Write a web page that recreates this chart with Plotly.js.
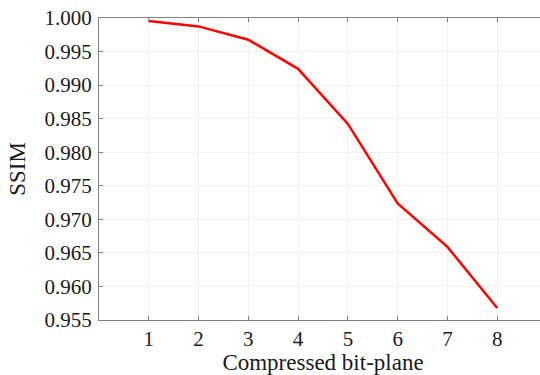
<!DOCTYPE html>
<html>
<head>
<meta charset="utf-8">
<script src="https://cdn.plot.ly/plotly-3.0.1.min.js"></script>
<style>
html,body{margin:0;padding:0;overflow:hidden;background:#fff;}
#chart{width:548px;height:375px;}
</style>
</head>
<body>
<div id="chart"></div>
<script>
var bitPlanes = [1, 2, 3, 4, 5, 6, 7, 8];
var ssimValues = [0.99955, 0.99875, 0.99676, 0.99243, 0.98422, 0.97238, 0.96590, 0.95679];
var yTickVals = [0.955, 0.960, 0.965, 0.970, 0.975, 0.980, 0.985, 0.990, 0.995, 1.000];
var yTickText = ["0.955", "0.960", "0.965", "0.970", "0.975", "0.980", "0.985", "0.990", "0.995", "1.000"];
var xTickVals = [1, 2, 3, 4, 5, 6, 7, 8];

var trace = {
  x: bitPlanes,
  y: ssimValues,
  type: 'scatter',
  mode: 'lines',
  line: {color: '#ff0000', width: 2.5},
  hoverinfo: 'skip'
};

var fontFam = '"Liberation Serif", "Times New Roman", serif';
var layout = {
  width: 548,
  height: 375,
  margin: {l: 99, r: 1, t: 18, b: 55},
  paper_bgcolor: '#ffffff',
  plot_bgcolor: '#ffffff',
  showlegend: false,
  font: {family: fontFam, size: 21, color: '#1a1a1a'},
  xaxis: {
    range: [0, 9],
    tickvals: xTickVals,
    ticktext: xTickVals.map(String),
    ticks: 'inside',
    ticklen: 4,
    tickwidth: 1,
    tickcolor: '#808080',
    showline: true,
    linecolor: '#808080',
    linewidth: 1,
    mirror: 'ticks',
    showgrid: true,
    gridcolor: '#f1f1f1',
    gridwidth: 1,
    zeroline: false,
    tickfont: {family: fontFam, size: 21, color: '#1a1a1a'},
    title: {text: 'Compressed bit-plane', font: {family: fontFam, size: 23, color: '#1a1a1a'}, standoff: 6}
  },
  yaxis: {
    range: [0.955, 1.000],
    tickvals: yTickVals,
    ticktext: yTickText,
    ticks: 'inside',
    ticklen: 4,
    tickwidth: 1,
    tickcolor: '#808080',
    showline: true,
    linecolor: '#808080',
    linewidth: 1,
    mirror: 'ticks',
    showgrid: true,
    gridcolor: '#f1f1f1',
    gridwidth: 1,
    zeroline: false,
    ticklabelstandoff: 2,
    tickfont: {family: fontFam, size: 21, color: '#1a1a1a'},
    title: {text: 'SSIM', font: {family: fontFam, size: 23, color: '#1a1a1a'}, standoff: 12}
  }
};

Plotly.newPlot('chart', [trace], layout, {displayModeBar: false, staticPlot: true});
</script>
</body>
</html>
